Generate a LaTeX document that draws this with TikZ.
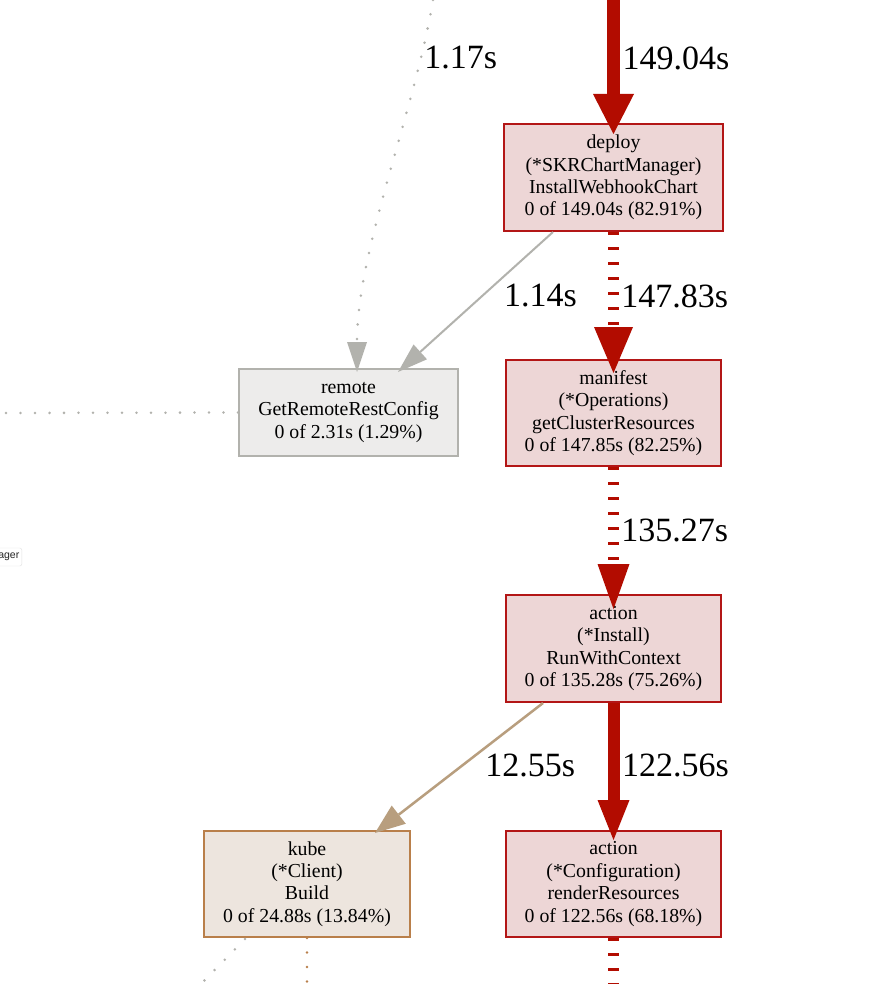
\documentclass[tikz,border=0pt]{standalone}
\usepackage{fontspec}
\setmainfont{Liberation Serif}
\newfontfamily\tipfont{Liberation Sans}
\usetikzlibrary{arrows.meta}

\definecolor{hotfill}{HTML}{EDD6D6}
\definecolor{hotline}{HTML}{B31616}
\definecolor{hotedge}{HTML}{B20C00}
\definecolor{coldfill}{HTML}{EDECEB}
\definecolor{coldline}{HTML}{B2B2AD}
\definecolor{warmfill}{HTML}{EDE5DE}
\definecolor{warmline}{HTML}{B97F4A}
\definecolor{warmedge}{HTML}{B89E7E}

\begin{document}
\begin{tikzpicture}[x=1pt, y=-1pt,
  every node/.style={font=\fontsize{19.8}{22.4}\selectfont},
  fnbox/.style={draw, line width=2pt, align=center, inner sep=0pt, minimum height=107pt},
  hotbox/.style={fnbox, draw=hotline, fill=hotfill, minimum width=215pt},
  coldbox/.style={fnbox, draw=coldline, fill=coldfill},
  warmbox/.style={fnbox, draw=warmline, fill=warmfill},
  elabel/.style={anchor=west, inner sep=0pt, font=\fontsize{34}{40}\selectfont},
  dotline/.style={line width=2.8pt, line cap=round, dash pattern=on 0pt off 14.5pt},
  hotdash/.style={draw=hotedge, line width=10.5pt, dash pattern=on 3pt off 12pt}]

  \fill[white] (0,0) rectangle (890,984);
  \useasboundingbox (0,0) rectangle (890,984);

  %% Function boxes
  \node[hotbox, minimum width=219pt] (deploy) at (613.5,177.5)
    {deploy\\(*SKRChartManager)\\InstallWebhookChart\\0 of 149.04s (82.91\%)};
  \node[hotbox, minimum height=106pt] (manifest) at (613.5,413)
    {manifest\\(*Operations)\\getClusterResources\\0 of 147.85s (82.25\%)};
  \node[coldbox, minimum width=219pt, minimum height=87pt] (remote) at (348.5,412.5)
    {remote\\GetRemoteRestConfig\\0 of 2.31s (1.29\%)};
  \node[hotbox] (install) at (613.5,648.5)
    {action\\(*Install)\\RunWithContext\\0 of 135.28s (75.26\%)};
  \node[warmbox, minimum width=206pt, minimum height=106pt] (kube) at (307,884)
    {kube\\(*Client)\\Build\\0 of 24.88s (13.84\%)};
  \node[hotbox, minimum height=106pt] (render) at (613.5,884)
    {action\\(*Configuration)\\renderResources\\0 of 122.56s (68.18\%)};

  %% Loose ends at the borders of the view
  \coordinate (intop) at (613.5,0);
  \coordinate (inleft) at (433,0);
  \coordinate (outwest) at (0,413);
  \coordinate (kubeout) at (245,939);
  \coordinate (kubedown) at (307,986);
  \coordinate (kubeleft) at (197,988);
  \coordinate (renderdown) at (613.5,986);

  %% Edges
  % incoming, heavy
  \draw[-{Triangle[width=41pt, length=40pt, line width=0pt]}, draw=hotedge, line width=13pt]
    (intop) -- ([yshift=-11pt]deploy.north)
    node[elabel] (t14904) at (616,58) {149.04s};
  % incoming, light dotted
  \draw[-{Triangle[width=20pt, length=30pt, line width=0pt]}, dotline, draw=coldline]
    (inleft) .. controls (415,110) and (357,250) .. ([yshift=-4pt]remote.north -| 357,0)
    node[elabel] (t117) at (423,58) {1.17s};
  \draw[-{Triangle[width=20pt, length=30pt, line width=0pt]}, draw=coldline, line width=2pt]
    (deploy.south -| 553,0) -- (398,372)
    node[elabel] (t114) at (503,296) {1.14s};
  \draw[-{Triangle[width=39pt, length=46pt, line width=0pt]}, hotdash]
    (deploy.south) -- ([yshift=-14pt]manifest.north)
    node[elabel] (t14783) at (616,296) {147.83s};
  \draw[-{Triangle[width=32pt, length=45pt, line width=0pt]}, hotdash]
    (manifest.south) -- ([yshift=-15pt]install.north)
    node[elabel] (t13527) at (616,530) {135.27s};
  \draw[-{Triangle[width=23pt, length=30pt, line width=0pt]}, draw=warmedge, line width=2.5pt]
    (install.south -| 543,0) -- (375,833)
    node[elabel] (t1255) at (484,765) {12.55s};
  \draw[-{Triangle[width=32pt, length=40pt, line width=0pt]}, draw=hotedge, line width=12pt]
    (install.south) -- ([yshift=-10pt]render.north)
    node[elabel] (t12256) at (616,765) {122.56s};

  % outgoing, cut off by the view
  \draw[dotline, draw=coldline] (remote.west) -- (outwest);
  \draw[dotline, draw=coldline] (kubeout) -- (kubeleft);
  \draw[dotline, draw=warmline] (kube.south) -- (kubedown);
  \draw[hotdash] (render.south) -- (renderdown);

  %% Tooltip at the left border
  \node[draw=black!12, fill=white, rounded corners=2pt, anchor=east, inner xsep=2.5pt,
        minimum height=18pt, text=black!85, font=\tipfont\fontsize{10.5}{12}\selectfont]
    (tip) at (22,557) {ager};

\end{tikzpicture}
\end{document}
